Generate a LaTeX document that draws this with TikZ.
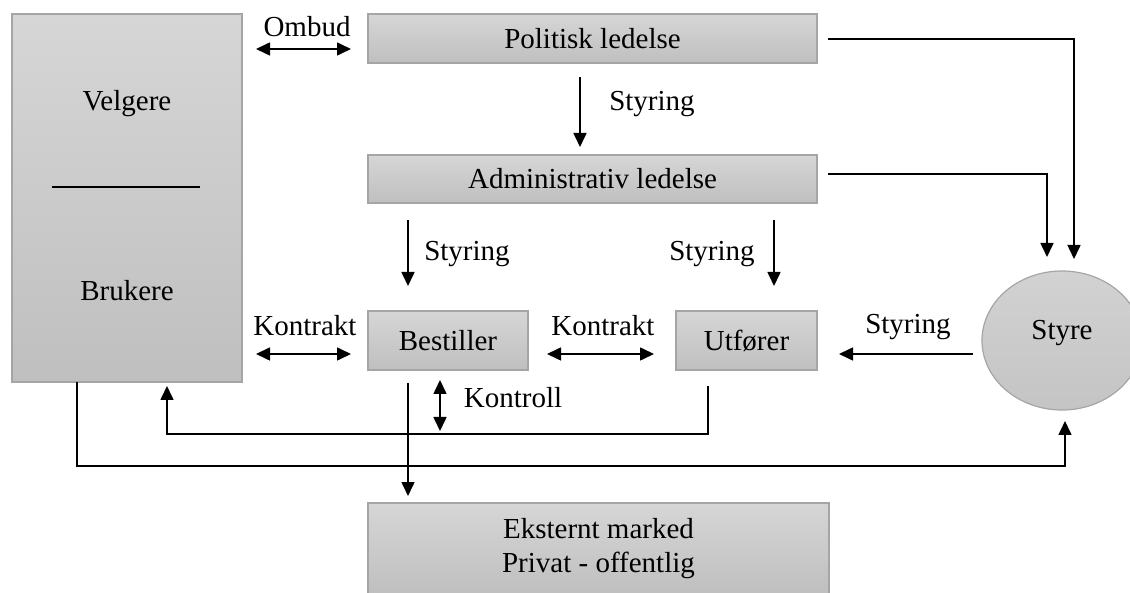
\documentclass[tikz,border=0pt]{standalone}
\usepackage{fontspec}
\setmainfont{Liberation Serif}
\usetikzlibrary{arrows.meta,shapes.geometric,shadings}
\definecolor{boxtop}{RGB}{214,214,214}
\definecolor{boxbot}{RGB}{191,191,191}
\definecolor{boxline}{RGB}{165,165,165}
\definecolor{circtop}{RGB}{210,210,210}
\definecolor{circbot}{RGB}{196,196,196}
\begin{document}
\begin{tikzpicture}[x=1pt,y=-1pt,
  every node/.style={font=\fontsize{29}{34}\selectfont, inner sep=0pt},
  box/.style={draw=boxline, line width=1.2pt, top color=boxtop, bottom color=boxbot, rectangle, align=center},
  lbl/.style={},
  conn/.style={line width=1.6pt, draw=black},
  tip/.style={-{Triangle[length=14pt,width=13pt]}},
  dtip/.style={{Triangle[length=14pt,width=13pt]}-{Triangle[length=14pt,width=13pt]}}
]
\useasboundingbox (0,0) rectangle (1130,593);
\begin{scope}
\clip (0,0) rectangle (1130,593);
% boxes
\node[box, minimum width=230pt, minimum height=368pt] (vel) at (127,198) {};
\node (veltxt) at (127,104) {Velgere};
\node (brutxt) at (127,291) {Brukere};
\coordinate (vl1) at (52,187);
\coordinate (vl2) at (200,187);
\draw[line width=1.6pt] (vl1) -- (vl2);

\node[box, minimum width=449pt, minimum height=49pt] (pol) at (592.5,38.5) {Politisk ledelse};
\node[box, minimum width=449pt, minimum height=48pt] (adm) at (592.5,179) {Administrativ ledelse};
\node[box, minimum width=160pt, minimum height=59pt] (best) at (448,340.5) {Bestiller};
\node[box, minimum width=141pt, minimum height=59pt] (utf) at (746.5,340.5) {Utfører};
\node[box, minimum width=461pt, minimum height=92pt] (eks) at (598.5,549) {Eksternt marked\\Privat - offentlig};
\node[draw=boxline, line width=1.2pt, top color=circtop, bottom color=circbot, ellipse, minimum width=160pt, minimum height=139pt] (sty) at (1062,340.5) {};
\node (stytxt) at (1062,333) {Styre};

% Ombud
\coordinate (om1) at (256,49);
\coordinate (om2) at (351,49);
\draw[conn, dtip] (om1) -- (om2);
\node (omlbl) at (307,27) {Ombud};

% Styring politisk -> adm
\coordinate (s1a) at (580,77);
\coordinate (s1b) at (580,147);
\draw[conn, tip] (s1a) -- (s1b);
\node (s1lbl) at (652,104) {Styring};

% Styring adm -> bestiller
\coordinate (s2a) at (408,220);
\coordinate (s2b) at (408,286);
\draw[conn, tip] (s2a) -- (s2b);
\node (s2lbl) at (467,254) {Styring};

% Styring adm -> utforer
\coordinate (s3a) at (774,220);
\coordinate (s3b) at (774,286);
\draw[conn, tip] (s3a) -- (s3b);
\node (s3lbl) at (712,254) {Styring};

% lines to Styre
\coordinate (p1) at (828,39);
\coordinate (p2) at (1074,259);
\draw[conn, tip] (p1) -| (p2);
\coordinate (a1) at (828,174);
\coordinate (a2) at (1047,257);
\draw[conn, tip] (a1) -| (a2);

% Kontrakt 1
\coordinate (k1a) at (256,354);
\coordinate (k1b) at (351,354);
\draw[conn, dtip] (k1a) -- (k1b);
\node (k1lbl) at (305,326) {Kontrakt};

% Kontrakt 2
\coordinate (k2a) at (547,354);
\coordinate (k2b) at (654,354);
\draw[conn, dtip] (k2a) -- (k2b);
\node (k2lbl) at (603,326) {Kontrakt};

% Styring from Styre
\coordinate (s4a) at (973,354);
\coordinate (s4b) at (839,354);
\draw[conn, tip] (s4a) -- (s4b);
\node (s4lbl) at (908,327) {Styring};

% Kontroll
\coordinate (kta) at (440,380);
\coordinate (ktb) at (440,431);
\draw[conn, dtip] (kta) -- (ktb);
\node (ktlbl) at (513,398) {Kontroll};

% Bestiller -> Eksternt
\coordinate (b1) at (408,383);
\coordinate (b2) at (408,496);
\draw[conn, tip] (b1) -- (b2);

% Utforer -> Velgere
\coordinate (u1) at (708,386);
\coordinate (u2) at (708,434);
\coordinate (u3) at (167,434);
\coordinate (u4) at (167,386);
\draw[conn, tip] (u1) -- (u2) -- (u3) -- (u4);

% Velgere -> Styre
\coordinate (v1) at (77,382);
\coordinate (v2) at (77,466);
\coordinate (v3) at (1065,466);
\coordinate (v4) at (1065,421);
\draw[conn, tip] (v1) -- (v2) -- (v3) -- (v4);
\end{scope}
\end{tikzpicture}
\end{document}
